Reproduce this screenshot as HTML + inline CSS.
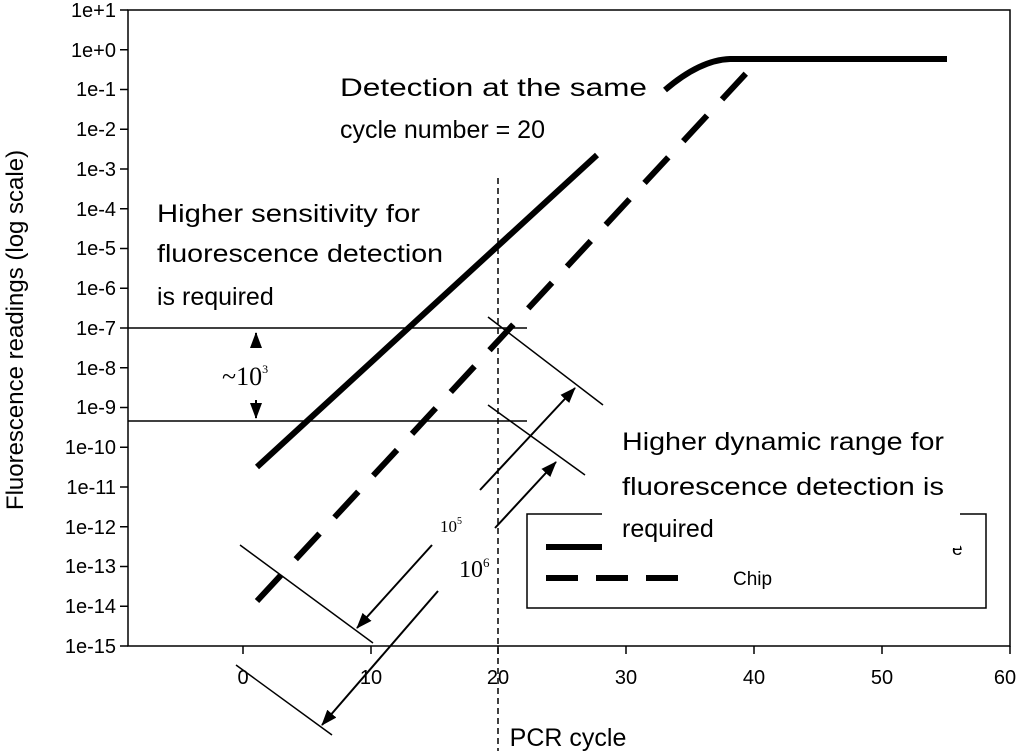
<!DOCTYPE html>
<html><head><meta charset="utf-8"><style>
body{margin:0;background:#fff}
svg{display:block}
.t{font-family:"Liberation Sans",Arial,sans-serif}
.s{font-family:"Liberation Serif",serif}
</style></head><body>
<svg width="1024" height="751" viewBox="0 0 1024 751" xmlns="http://www.w3.org/2000/svg">
<defs>
<marker id="ah" markerWidth="10" markerHeight="8" refX="9" refY="4" orient="auto" markerUnits="userSpaceOnUse"><path d="M0,0 L18,4 L0,8 z" transform="scale(0.55,1)"/></marker>
<marker id="ab" markerWidth="16" markerHeight="12" refX="15" refY="6" orient="auto" markerUnits="userSpaceOnUse"><path d="M0,0 L16,6 L0,12 z"/></marker>
</defs>
<!-- frame -->
<rect x="128" y="10" width="882" height="636" fill="none" stroke="#000" stroke-width="1.5"/>
<g stroke="#000" stroke-width="1.5">
<line x1="120" y1="10" x2="128" y2="10"/><line x1="120" y1="49.75" x2="128" y2="49.75"/><line x1="120" y1="89.5" x2="128" y2="89.5"/><line x1="120" y1="129.25" x2="128" y2="129.25"/><line x1="120" y1="169" x2="128" y2="169"/><line x1="120" y1="208.75" x2="128" y2="208.75"/><line x1="120" y1="248.5" x2="128" y2="248.5"/><line x1="120" y1="288.25" x2="128" y2="288.25"/><line x1="120" y1="328" x2="128" y2="328"/><line x1="120" y1="367.75" x2="128" y2="367.75"/><line x1="120" y1="407.5" x2="128" y2="407.5"/><line x1="120" y1="447.25" x2="128" y2="447.25"/><line x1="120" y1="487" x2="128" y2="487"/><line x1="120" y1="526.75" x2="128" y2="526.75"/><line x1="120" y1="566.5" x2="128" y2="566.5"/><line x1="120" y1="606.25" x2="128" y2="606.25"/><line x1="120" y1="646" x2="128" y2="646"/>
<line x1="243" y1="646" x2="243" y2="654"/><line x1="371" y1="646" x2="371" y2="654"/><line x1="498" y1="646" x2="498" y2="654"/><line x1="626" y1="646" x2="626" y2="654"/><line x1="754" y1="646" x2="754" y2="654"/><line x1="882" y1="646" x2="882" y2="654"/><line x1="1010" y1="646" x2="1010" y2="654"/>
</g>
<g class="t" font-size="20" text-anchor="end">
<text x="116" y="17">1e+1</text><text x="116" y="57">1e+0</text><text x="116" y="96">1e-1</text><text x="116" y="136">1e-2</text><text x="116" y="176">1e-3</text><text x="116" y="216">1e-4</text><text x="116" y="255">1e-5</text><text x="116" y="295">1e-6</text><text x="116" y="335">1e-7</text><text x="116" y="375">1e-8</text><text x="116" y="414">1e-9</text><text x="116" y="454">1e-10</text><text x="116" y="494">1e-11</text><text x="116" y="534">1e-12</text><text x="116" y="573">1e-13</text><text x="116" y="613">1e-14</text><text x="116" y="653">1e-15</text>
</g>
<g class="t" font-size="20" text-anchor="middle">
<text x="243" y="684">0</text><text x="371" y="684">10</text><text x="498" y="684">20</text><text x="626" y="684">30</text><text x="754" y="684">40</text><text x="882" y="684">50</text><text x="1005" y="684">60</text>
</g>
<text class="t" font-size="25" x="568" y="746" text-anchor="middle">PCR cycle</text>
<text class="t" font-size="24" transform="translate(23,330) rotate(-90)" text-anchor="middle">Fluorescence readings (log scale)</text>
<!-- dashed vertical -->
<line x1="498" y1="178" x2="498" y2="751" stroke="#000" stroke-width="1.5" stroke-dasharray="6,4"/>
<!-- horizontal lines -->
<line x1="128" y1="328" x2="527" y2="328" stroke="#000" stroke-width="1.5"/>
<line x1="128" y1="421" x2="527" y2="421" stroke="#000" stroke-width="1.5"/>
<line x1="256" y1="348" x2="256" y2="333" stroke="#000" stroke-width="2" marker-end="url(#ab)"/>
<line x1="256" y1="400" x2="256" y2="418" stroke="#000" stroke-width="2" marker-end="url(#ab)"/>
<text class="s" font-size="26" x="222" y="385">~10<tspan font-size="12" dy="-12">3</tspan></text>
<!-- curves -->
<line x1="257" y1="467" x2="597" y2="155" stroke="#000" stroke-width="6"/>
<path d="M665,90 Q700,60 730,59 L947,59" fill="none" stroke="#000" stroke-width="6"/>
<line x1="257" y1="601" x2="752" y2="67" stroke="#000" stroke-width="6" stroke-dasharray="35,22"/>
<!-- thin diagonals -->
<g stroke="#000" stroke-width="1.5">
<line x1="488" y1="317" x2="603" y2="405"/>
<line x1="488" y1="405" x2="585" y2="475"/>
<line x1="240" y1="545" x2="373" y2="643"/>
<line x1="236" y1="665" x2="332" y2="735"/>
</g>
<g stroke="#000" stroke-width="2">
<line x1="480" y1="490" x2="575" y2="388" marker-end="url(#ab)"/>
<line x1="432" y1="545" x2="357" y2="628" marker-end="url(#ab)"/>
<line x1="495" y1="528" x2="556" y2="462" marker-end="url(#ab)"/>
<line x1="438" y1="591" x2="322" y2="725" marker-end="url(#ab)"/>
</g>
<text class="s" font-size="17" x="440" y="532">10<tspan font-size="10" dy="-8">5</tspan></text>
<text class="s" font-size="24" x="459" y="577">10<tspan font-size="13" dy="-10">6</tspan></text>
<!-- legend -->
<rect x="527" y="514" width="459" height="94" fill="#fff" stroke="#000" stroke-width="1.5"/>
<line x1="546" y1="547" x2="602" y2="547" stroke="#000" stroke-width="6"/>
<line x1="546" y1="578" x2="678" y2="578" stroke="#000" stroke-width="6" stroke-dasharray="32,18"/>
<text class="t" font-size="19" x="733" y="585">Chip</text>
<text class="t" font-size="19" x="952" y="555">e</text>
<rect x="602" y="508" width="358" height="40" fill="#fff"/>
<!-- annotations -->
<g class="t" font-size="25">
<text x="622" y="450" textLength="322" lengthAdjust="spacingAndGlyphs">Higher dynamic range for</text>
<text x="622" y="495" textLength="322" lengthAdjust="spacingAndGlyphs">fluorescence detection is</text>
<text x="622" y="537">required</text>
<text x="157" y="222" textLength="263" lengthAdjust="spacingAndGlyphs">Higher sensitivity for</text>
<text x="157" y="262" textLength="286" lengthAdjust="spacingAndGlyphs">fluorescence detection</text>
<text x="157" y="305">is required</text>
<text x="340" y="96" textLength="307" lengthAdjust="spacingAndGlyphs">Detection at the same</text>
<text x="340" y="138">cycle number = 20</text>
</g>
</svg>
</body></html>
